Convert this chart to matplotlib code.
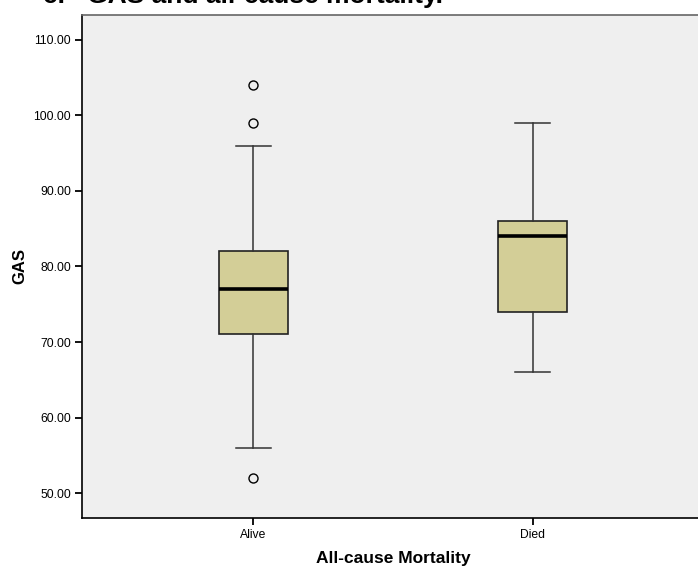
import matplotlib
matplotlib.use("Agg")
import matplotlib.pyplot as plt
from matplotlib.ticker import FormatStrFormatter

plt.rcParams['font.family'] = ['Liberation Sans', 'DejaVu Sans']

# GAS summary by all-cause mortality group
groups = ['Alive', 'Died']
q1 = [71, 74]
median = [77, 84]
q3 = [82, 86]
whisker_low = [56, 66]
whisker_high = [96, 99]
outliers = [[104, 99, 52], []]
yticks = [50, 60, 70, 80, 90, 100, 110]

stats = []
for i, name in enumerate(groups):
    stats.append(dict(label=name, q1=q1[i], med=median[i], q3=q3[i],
                      whislo=whisker_low[i], whishi=whisker_high[i],
                      fliers=outliers[i]))

fig = plt.figure(figsize=(6.98, 5.72), dpi=100)
ax = fig.add_axes([82 / 698, 54 / 572, 622 / 698, 503 / 572])
ax.set_facecolor('#efefef')

ax.bxp(stats, positions=[1, 2], widths=0.25, patch_artist=True,
       boxprops=dict(facecolor='#d3ce97', edgecolor='#222222', linewidth=1.2),
       medianprops=dict(color='black', linewidth=2.6),
       whiskerprops=dict(color='#333333', linewidth=1.1),
       capprops=dict(color='#333333', linewidth=1.1),
       flierprops=dict(marker='o', markerfacecolor='none',
                       markeredgecolor='black', markersize=6.5,
                       markeredgewidth=1.0))

ax.set_xlim(0.386, 2.614)
ax.set_ylim(46.7, 113.3)
ax.set_yticks(yticks)
ax.yaxis.set_major_formatter(FormatStrFormatter('%.2f'))
ax.tick_params(axis='both', direction='out', length=5, width=1.3,
               labelsize=8.7, colors='black', pad=3)

for side in ['left', 'bottom']:
    ax.spines[side].set_color('black')
    ax.spines[side].set_linewidth(1.2)
ax.spines['top'].set_color('#666666')
ax.spines['top'].set_linewidth(1.2)
ax.spines['right'].set_visible(False)

ax.set_xlabel('All-cause Mortality', fontsize=12.5, fontweight='bold', labelpad=7)
ax.set_ylabel('GAS', fontsize=12, fontweight='bold', labelpad=4)

fig.text(43 / 698, 1 - 2.5 / 572, 'c.   GAS and all-cause mortality.',
         fontsize=19, fontweight='bold', va='baseline', ha='left')

fig.savefig('out.png', dpi=100)
